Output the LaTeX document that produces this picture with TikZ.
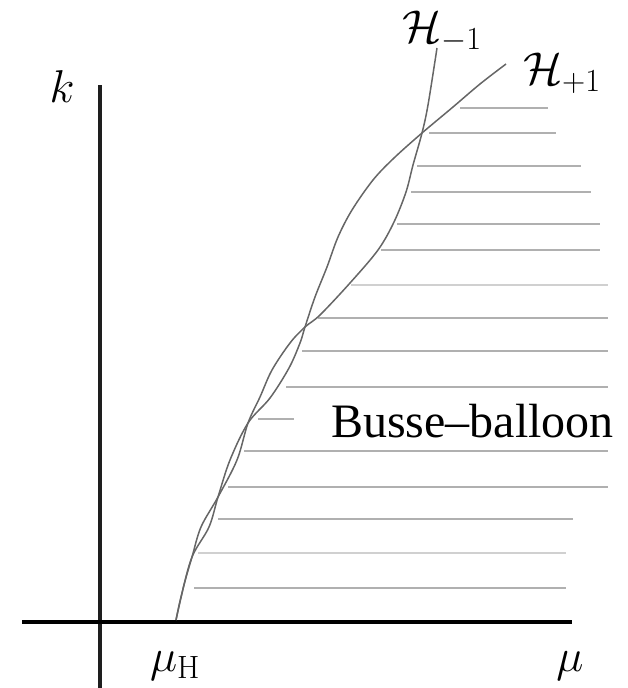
\RequirePackage{fix-cm}
\documentclass[tikz,border=0pt]{standalone}
\usepackage{fontspec}
\newfontfamily\tnr[Ligatures=TeX]{Liberation Serif}
\definecolor{axiscol}{HTML}{1E1E1E}
\definecolor{curvecol}{HTML}{666666}
\definecolor{hatchcol}{HTML}{B0B0B0}
\definecolor{hatchlight}{HTML}{D0D0D0}
\begin{document}
\begin{tikzpicture}[x=1pt,y=-1pt,
  axisline/.style={draw=axiscol,line width=3.6pt},
  curveline/.style={draw=curvecol,line width=1.5pt,smooth,tension=0.55},
  hatch/.style={draw=hatchcol,line width=2.2pt},
  hatchl/.style={draw=hatchlight,line width=2.4pt},
  mlabel/.style={inner sep=0pt,font=\fontsize{46}{46}\selectfont},
  tlabel/.style={inner sep=0pt,font=\tnr\fontsize{48}{48}\selectfont}]
\useasboundingbox (0,0) rectangle (628,688);
% axes
\draw[axisline] (100,85) -- (100,688);
\draw[axisline,draw=black] (22,622) -- (572,622);
% hatch lines
\foreach \y/\a/\b in {108/460/548,133/429/556,166/417/581,192/411/591,224/397/600,250/381/600,
  318/318/608,351/302/608,387/286/608,419/258/294,451/244/608,487/228/608,519/218/573,588/194/566}
  {\draw[hatch] (\a,\y) -- (\b,\y);}
\draw[hatchl] (351,285) -- (608,285);
\draw[hatchl] (198,553) -- (566,553);
% curves
\draw[curveline] plot coordinates {(176,620) (184,585) (192,557) (201,527) (218,497) (237,460) (248,423)
  (260,397) (272,370) (290,343) (305,327) (320,315) (350,283) (378,250) (394,222) (406,192) (413,165)
  (422,133) (428,105) (437,48)};
\draw[curveline] plot coordinates {(176,620) (181,597) (192,557) (209,527) (218,497) (230,460) (248,423)
  (270,398) (289,368) (300,343) (305,327) (315,297) (327,267) (338,237) (352,210) (373,180) (394,158)
  (422,133) (453,107) (480,84) (506,64)};
% labels
\node[mlabel] (k) at (62,87) {$k$};
\node[mlabel] (hm) at (442,32) {$\mathcal{H}_{-1}$};
\node[mlabel] (hp) at (562,73) {$\mathcal{H}_{+1}$};
\node[mlabel] (muh) at (175,666) {$\mu_{\mathrm{H}}$};
\node[mlabel] (mu) at (570,666) {$\mu$};
\node[tlabel,anchor=base west] (bb) at (331,437) {Busse\textendash balloon};
\end{tikzpicture}
\end{document}
